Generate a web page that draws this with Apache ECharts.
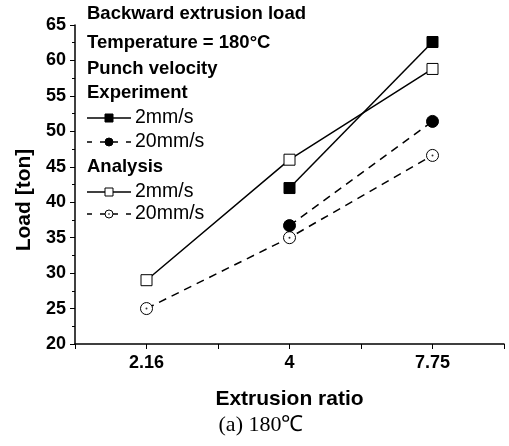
<!DOCTYPE html>
<html>
<head>
<meta charset="utf-8">
<script src="https://cdn.jsdelivr.net/npm/echarts@6/dist/echarts.min.js"></script>
<style>
  html, body { margin: 0; padding: 0; background: #fff; }
  #main { width: 509px; height: 446px; }
</style>
</head>
<body>
<div id="main"></div>
<script>
  // extrusion ratio categories
  var categories = ['2.16', '4', '7.75'];
  // load [ton]
  var expSlow = [null, 42.0, 62.6];   // experiment 2mm/s
  var expFast = [null, 36.7, 51.4];   // experiment 20mm/s
  var anaSlow = [29.0, 46.0, 58.8];   // analysis 2mm/s
  var anaFast = [25.0, 35.0, 46.6];   // analysis 20mm/s
  var yTicks = [20, 65, 5];           // min, max, step

  // category i sits in the middle of band i
  function pts(arr) {
    var out = [];
    arr.forEach(function (v, i) {
      if (v !== null) out.push([i + 0.5, v]);
    });
    return out;
  }

  var black = '#000';
  var font = 'Liberation Sans, Arial, sans-serif';

  // legend drawn by hand (headers mixed between items)
  var lx = 87;
  function head(text, y) {
    return { type: 'text', x: lx, y: y,
      style: { text: text, font: 'bold 18.5px ' + font, fill: black, verticalAlign: 'middle' } };
  }
  function item(text, y, dashed, shape, filled) {
    var els = [
      { type: 'line', shape: { x1: lx, y1: y, x2: lx + 44, y2: y },
        style: { stroke: black, lineWidth: 1.3, lineDash: dashed ? [5, 8] : null } }
    ];
    var cx = lx + 22;
    if (shape === 'rect') {
      els.push({ type: 'rect', shape: { x: cx - 4, y: y - 4, width: 8, height: 8 },
        style: { fill: filled ? black : '#fff', stroke: black, lineWidth: 1 } });
    } else {
      els.push({ type: 'circle', shape: { cx: cx, cy: y, r: 4 },
        style: { fill: filled ? black : '#fff', stroke: black, lineWidth: 1 } });
      if (!filled) els.push({ type: 'circle', shape: { cx: cx, cy: y, r: 0.8 }, style: { fill: black } });
    }
    els.push({ type: 'text', x: lx + 48, y: y,
      style: { text: text, font: '19.5px ' + font, fill: black, verticalAlign: 'middle' } });
    return els;
  }

  var graphics = [
    head('Backward extrusion load', 14),
    head('Temperature = 180\u00B0C', 43),
    head('Punch velocity', 69),
    head('Experiment', 93)
  ].concat(item('2mm/s', 118, false, 'rect', true))
   .concat(item('20mm/s', 142, true, 'circle', true))
   .concat([head('Analysis', 167)])
   .concat(item('2mm/s', 192, false, 'rect', false))
   .concat(item('20mm/s', 214, true, 'circle', false))
   .concat([
     { type: 'text', x: 24, y: 200, rotation: Math.PI / 2,
       style: { text: 'Load [ton]', font: 'bold 21px ' + font, fill: black, align: 'center', verticalAlign: 'middle' } },
     { type: 'text', x: 261, y: 425,
       style: { text: '(a) 180\u2103', font: '22px Liberation Serif, Times New Roman, serif', fill: black,
         align: 'center', verticalAlign: 'middle' } }
   ]);

  function lineSeries(data, dashed, symbol, filled, size) {
    return {
      type: 'line',
      data: pts(data),
      symbol: symbol,
      symbolSize: size,
      showAllSymbol: true,
      lineStyle: { color: black, width: 1.5, type: dashed ? [8, 6] : 'solid' },
      itemStyle: { color: filled ? black : '#fff', borderColor: black, borderWidth: 1 },
      z: 3
    };
  }

  var myChart = echarts.init(document.getElementById('main'));
  var option = {
    animation: false,
    backgroundColor: '#fff',
    grid: { left: 75, right: 5, top: 25, bottom: 102 },
    xAxis: {
      type: 'value',
      min: 0,
      max: categories.length,
      interval: 0.5,
      name: 'Extrusion ratio',
      nameLocation: 'middle',
      nameGap: 45,
      nameTextStyle: { color: black, fontSize: 21, fontWeight: 'bold', fontFamily: font },
      axisLine: { lineStyle: { color: black, width: 1.5 } },
      axisTick: { show: true, length: 5, lineStyle: { color: black } },
      axisLabel: {
        color: black, fontSize: 18, fontWeight: 'bold', fontFamily: font, margin: 10,
        formatter: function (v) {
          var i = v - 0.5;
          return (Math.abs(i - Math.round(i)) < 1e-6 && categories[Math.round(i)]) ? categories[Math.round(i)] : '';
        }
      },
      splitLine: { show: false }
    },
    yAxis: {
      type: 'value',
      min: yTicks[0],
      max: yTicks[1],
      interval: yTicks[2],
      axisLine: { show: true, lineStyle: { color: black, width: 1.5 } },
      axisTick: { show: true, length: 5, lineStyle: { color: black } },
      minorTick: { show: true, splitNumber: 2, length: 3, lineStyle: { color: black } },
      axisLabel: { color: black, fontSize: 18, fontWeight: 'bold', fontFamily: font, margin: 9 },
      splitLine: { show: false }
    },
    graphic: graphics,
    series: [
      lineSeries(anaSlow, false, 'rect', false, 11),
      lineSeries(anaFast, true, 'circle', false, 12),
      lineSeries(expSlow, false, 'rect', true, 11),
      lineSeries(expFast, true, 'circle', true, 12),
      {
        // centre dot of the open circles
        type: 'scatter',
        data: pts(anaFast),
        symbol: 'circle',
        symbolSize: 2,
        itemStyle: { color: black },
        z: 5
      }
    ]
  };
  myChart.setOption(option);
</script>
</body>
</html>
